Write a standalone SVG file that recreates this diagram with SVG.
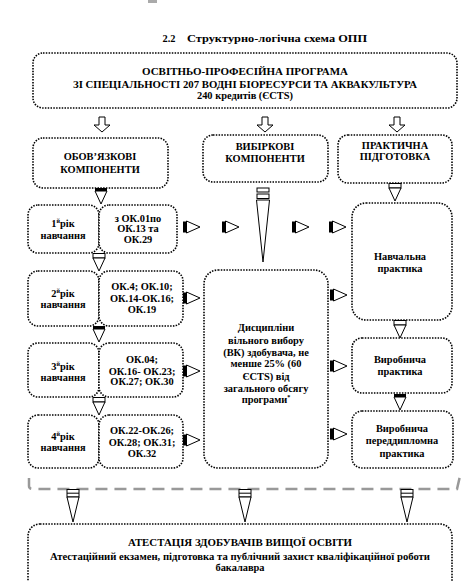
<svg xmlns="http://www.w3.org/2000/svg" width="475" height="581" viewBox="0 0 475 581">
<style>
.bx{fill:#fff;stroke:#000;stroke-width:1.6;stroke-dasharray:1.5 1.3;}
.t{font-family:"Liberation Serif","Times New Roman",serif;font-weight:bold;font-size:10.4px;fill:#000;text-anchor:middle;}
.ol{fill:#fff;stroke:#000;stroke-width:1;}
</style>
<defs>
<g id="hdown"><polygon class="ol" points="-3,0 3,0 3,8 8,8 0,15 -8,8 -3,8"/></g>
<g id="harr"><rect x="0" y="-5.5" width="3.5" height="11" fill="#000"/><polygon class="ol" points="3.5,-6 17,0 3.5,6"/></g>
<g id="d1"><rect x="-6" y="0" width="12" height="3" fill="#000"/><polygon class="ol" points="-6,3 6,3 0,16"/></g>
<g id="d2"><rect x="-6" y="0.5" width="12" height="4.5" class="ol"/><polygon class="ol" points="-6,5 6,5 0,18"/></g>
<g id="dlong"><rect x="-6" y="0.5" width="12" height="7.5" class="ol"/><line x1="-6" y1="4.2" x2="6" y2="4.2" stroke="#000" stroke-width="1"/><polygon class="ol" points="-6,8 6,8 0,33"/></g>
</defs>
<rect x="148" y="0" width="9" height="3" fill="#aaa"/>
<text class="t" x="169" y="42" font-size="11.5">2.2</text>
<text class="t" x="277" y="42" font-size="11.5" textLength="180" lengthAdjust="spacingAndGlyphs">Структурно-логічна схема ОПП</text>

<g id="programme">
<rect class="bx" x="33" y="53" width="424" height="55" rx="10"/>
<text class="t" x="245" y="75" textLength="206" lengthAdjust="spacingAndGlyphs">ОСВІТНЬО-ПРОФЕСІЙНА ПРОГРАМА</text>
<text class="t" x="245" y="88" textLength="344" lengthAdjust="spacingAndGlyphs">ЗІ СПЕЦІАЛЬНОСТІ 207 ВОДНІ БІОРЕСУРСИ ТА АКВАКУЛЬТУРА</text>
<text class="t" x="245" y="99">240 кредитів (ЄCTS)</text>
</g>

<g id="mandatory">
<rect class="bx" x="33" y="138" width="135" height="50" rx="10"/>
<text class="t" x="100" y="160">ОБОВ’ЯЗКОВІ</text>
<text class="t" x="100" y="173">КОМПОНЕНТИ</text>
</g>
<g id="elective">
<rect class="bx" x="203" y="135" width="125" height="47" rx="10"/>
<text class="t" x="265" y="150">ВИБІРКОВІ</text>
<text class="t" x="265" y="162">КОМПОНЕНТИ</text>
</g>
<g id="practical">
<rect class="bx" x="338" y="135" width="114" height="48" rx="10"/>
<text class="t" x="395" y="149" font-size="9.5">ПРАКТИЧНА</text>
<text class="t" x="395" y="160" font-size="9.5">ПІДГОТОВКА</text>
</g>

<g id="year1">
<rect class="bx" x="28" y="205" width="71" height="48" rx="10"/>
<rect class="bx" x="99" y="205" width="78" height="48" rx="10"/>
<text class="t" x="63" y="227">1<tspan font-size="6" dy="-4">й</tspan><tspan dy="4">рік</tspan></text>
<text class="t" x="63" y="239">навчання</text>
<text class="t" x="138" y="222">з ОК.01по</text>
<text class="t" x="138" y="232">ОК.13 та</text>
<text class="t" x="138" y="243">ОК.29</text>
</g>
<g id="year2">
<rect class="bx" x="28" y="271" width="71" height="55" rx="10"/>
<rect class="bx" x="99" y="271" width="84" height="55" rx="10"/>
<text class="t" x="63" y="297">2<tspan font-size="6" dy="-4">й</tspan><tspan dy="4">рік</tspan></text>
<text class="t" x="63" y="308">навчання</text>
<text class="t" x="142" y="290">ОК.4; ОК.10;</text>
<text class="t" x="142" y="302">ОК.14-ОК.16;</text>
<text class="t" x="142" y="313">ОК.19</text>
</g>
<g id="year3">
<rect class="bx" x="28" y="343" width="71" height="54" rx="10"/>
<rect class="bx" x="99" y="343" width="84" height="54" rx="10"/>
<text class="t" x="63" y="370">3<tspan font-size="6" dy="-4">й</tspan><tspan dy="4">рік</tspan></text>
<text class="t" x="63" y="381">навчання</text>
<text class="t" x="142" y="363">ОК.04;</text>
<text class="t" x="142" y="375">ОК.16- ОК.23;</text>
<text class="t" x="142" y="385">ОК.27; ОК.30</text>
</g>
<g id="year4">
<rect class="bx" x="28" y="415" width="71" height="53" rx="10"/>
<rect class="bx" x="99" y="415" width="84" height="53" rx="10"/>
<text class="t" x="63" y="440">4<tspan font-size="6" dy="-4">й</tspan><tspan dy="4">рік</tspan></text>
<text class="t" x="63" y="451">навчання</text>
<text class="t" x="142" y="434">ОК.22-ОК.26;</text>
<text class="t" x="142" y="446">ОК.28; ОК.31;</text>
<text class="t" x="142" y="457">ОК.32</text>
</g>

<g id="free-choice">
<rect class="bx" x="204" y="270" width="124" height="198" rx="14"/>
<text class="t" x="266" y="331">Дисципліни</text>
<text class="t" x="266" y="344">вільного вибору</text>
<text class="t" x="266" y="356">(ВК) здобувача, не</text>
<text class="t" x="266" y="367">менше 25% (60</text>
<text class="t" x="266" y="380">ЄCTS) від</text>
<text class="t" x="266" y="392">загального обсягу</text>
<text class="t" x="266" y="403">програми<tspan font-size="6" dy="-4">*</tspan></text>
</g>

<g id="study-practice">
<rect class="bx" x="352" y="203" width="100" height="117" rx="14"/>
<text class="t" x="400" y="260">Навчальна</text>
<text class="t" x="400" y="272">практика</text>
</g>
<g id="production-practice">
<rect class="bx" x="352" y="338" width="100" height="55" rx="10"/>
<text class="t" x="400" y="363">Виробнича</text>
<text class="t" x="400" y="375">практика</text>
</g>
<g id="prediploma-practice">
<rect class="bx" x="352" y="411" width="101" height="57" rx="10"/>
<text class="t" x="402" y="432">Виробнича</text>
<text class="t" x="402" y="444">переддипломна</text>
<text class="t" x="402" y="457">практика</text>
</g>

<g id="attestation">
<rect class="bx" x="28" y="524" width="424" height="80" rx="12"/>
<text class="t" x="240" y="546" textLength="224" lengthAdjust="spacingAndGlyphs">АТЕСТАЦІЯ ЗДОБУВАЧІВ ВИЩОЇ ОСВІТИ</text>
<text class="t" x="240" y="560" textLength="380" lengthAdjust="spacingAndGlyphs">Атестаційний екзамен, підготовка та публічний захист кваліфікаційної роботи</text>
<text class="t" x="240" y="571">бакалавра</text>
</g>

<g id="connectors">
<use href="#hdown" x="102" y="117"/>
<use href="#hdown" x="265" y="117"/>
<use href="#hdown" x="397" y="117"/>

<use href="#d1" x="101" y="188"/>
<use href="#d2" x="99" y="253"/>
<use href="#d1" x="99" y="326"/>
<use href="#d2" x="99" y="397"/>
<use href="#d2" x="395" y="183"/>
<use href="#d2" x="400" y="320"/>
<use href="#d1" x="400" y="394"/>

<g>
<rect x="257" y="188" width="12" height="4" class="ol"/>
<rect x="257" y="194" width="12" height="4.5" class="ol"/>
<polygon class="ol" points="256.5,200 269.5,200 263,262"/>
</g>

<use href="#harr" x="183" y="227"/>
<use href="#harr" x="222" y="227"/>
<use href="#harr" x="292" y="227"/>
<use href="#harr" x="329" y="227"/>
<use href="#harr" x="183" y="298"/>
<use href="#harr" x="183" y="371"/>
<use href="#harr" x="183" y="440"/>
<use href="#harr" x="330" y="295"/>
<use href="#harr" x="330" y="366"/>
<use href="#harr" x="330" y="434"/>

<path d="M29,478 L29,486 Q29,489 33,489 L457,489 L460,476" fill="none" stroke="#999" stroke-width="2.5" stroke-dasharray="12 7"/>
<use href="#dlong" x="73" y="489"/>
<use href="#dlong" x="245" y="489"/>
<use href="#dlong" x="407" y="489"/>
</g>
</svg>
